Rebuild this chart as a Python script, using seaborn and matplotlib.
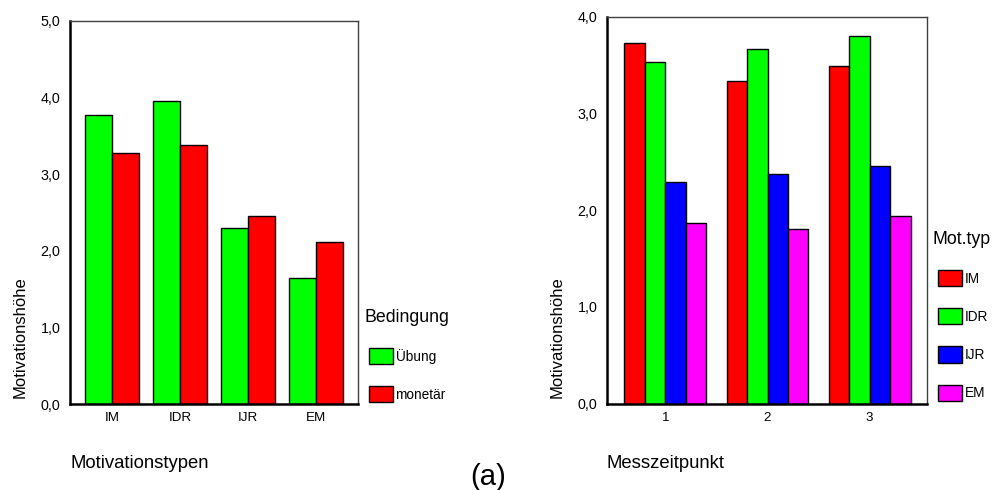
import pandas as pd
import matplotlib
matplotlib.use('Agg')
import matplotlib.pyplot as plt
from matplotlib.ticker import FuncFormatter
import seaborn as sns

# Daten linkes Diagramm
typen = ['IM', 'IDR', 'IJR', 'EM']
uebung = [3.77, 3.96, 2.30, 1.64]
monetaer = [3.28, 3.38, 2.45, 2.12]
bedingungen = ['Übung', 'monetär']

# Daten rechtes Diagramm
zeitpunkte = ['1', '2', '3']
im_werte = [3.73, 3.34, 3.49]
idr_werte = [3.53, 3.67, 3.80]
ijr_werte = [2.29, 2.37, 2.46]
em_werte = [1.87, 1.81, 1.94]
mot_typen = ['IM', 'IDR', 'IJR', 'EM']

df_links = pd.DataFrame({
    'Typ': typen * 2,
    'Wert': uebung + monetaer,
    'Bedingung': [bedingungen[0]] * 4 + [bedingungen[1]] * 4,
})
df_rechts = pd.DataFrame({
    'Zeit': zeitpunkte * 4,
    'Wert': im_werte + idr_werte + ijr_werte + em_werte,
    'Mot.typ': [t for t in mot_typen for _ in zeitpunkte],
})

sns.set_style('white')
plt.rcParams['font.family'] = ['Liberation Sans', 'DejaVu Sans']
plt.rcParams.update({'text.color': 'black', 'axes.labelcolor': 'black',
                     'xtick.color': 'black', 'ytick.color': 'black'})

W, H = 992, 490
fig = plt.figure(figsize=(W / 100, H / 100), dpi=100)


def px_axes(x0, y0, x1, y1):
    return fig.add_axes([x0 / W, 1 - y1 / H, (x1 - x0) / W, (y1 - y0) / H])


komma = FuncFormatter(lambda v, p: f'{v:.1f}'.replace('.', ','))


def stil(ax, ymax):
    ax.set_ylim(0, ymax)
    ax.set_yticks(range(0, ymax + 1))
    ax.yaxis.set_major_formatter(komma)
    ax.set_xlabel('')
    ax.set_ylabel('')
    for s in ['left', 'bottom']:
        ax.spines[s].set_color('black')
        ax.spines[s].set_linewidth(1.8)
    for s in ['top', 'right']:
        ax.spines[s].set_color('#404040')
        ax.spines[s].set_linewidth(1.0)
    ax.tick_params(axis='both', direction='out', length=3, width=2.2,
                   color='black', labelcolor='black', pad=3)
    ax.tick_params(axis='y', labelsize=10.3, pad=4)
    ax.tick_params(axis='x', labelsize=9.6)
    ax.legend_.remove()


# linkes Diagramm
ax1 = px_axes(70, 21, 358, 404)
sns.barplot(data=df_links, x='Typ', y='Wert', hue='Bedingung', order=typen,
            hue_order=bedingungen, palette=['#00ff00', '#ff0000'], saturation=1,
            edgecolor='black', linewidth=1, errorbar=None, width=0.8, ax=ax1)
ax1.set_xlim(-0.62, 3.62)
stil(ax1, 5)
h1, l1 = ax1.get_legend_handles_labels()

# rechtes Diagramm
ax2 = px_axes(607, 16.7, 927, 403.7)
sns.barplot(data=df_rechts, x='Zeit', y='Wert', hue='Mot.typ', order=zeitpunkte,
            hue_order=mot_typen, palette=['#ff0000', '#00ff00', '#0000ff', '#ff00ff'],
            saturation=1, edgecolor='black', linewidth=1, errorbar=None, width=0.8, ax=ax2)
ax2.set_xlim(-0.57, 2.56)
stil(ax2, 4)
h2, l2 = ax2.get_legend_handles_labels()

leg_opts = dict(frameon=False, loc='upper left', fontsize=9.8, title_fontsize=12.8,
                handlelength=1.75, handleheight=1.45, handletextpad=0.2,
                labelspacing=1.62, borderpad=0, borderaxespad=0)
lg1 = fig.legend(h1, l1, title='Bedingung', bbox_to_anchor=(369 / W, 1 - 309 / H), **leg_opts)
lg2 = fig.legend(h2, l2, title='Mot.typ', bbox_to_anchor=(938 / W, 1 - 231 / H), **leg_opts)
for lg in (lg1, lg2):
    lg._legend_box.align = 'left'
    lg.get_title().set_position((-5, 0))
    for p in lg.get_patches():
        p.set_edgecolor('black')
        p.set_linewidth(1)

# Achsenbeschriftungen
fig.text(20 / W, 1 - 337 / H, 'Motivationshöhe', rotation=90, ha='center', va='center', fontsize=12)
fig.text(557 / W, 1 - 337 / H, 'Motivationshöhe', rotation=90, ha='center', va='center', fontsize=12)
fig.text(70 / W, 1 - 463 / H, 'Motivationstypen', ha='left', va='center', fontsize=13.3)
fig.text(607 / W, 1 - 463 / H, 'Messzeitpunkt', ha='left', va='center', fontsize=13.3)
fig.text(488 / W, 1 - 477 / H, '(a)', ha='center', va='center', fontsize=21)

fig.savefig('out.png', dpi=100)
